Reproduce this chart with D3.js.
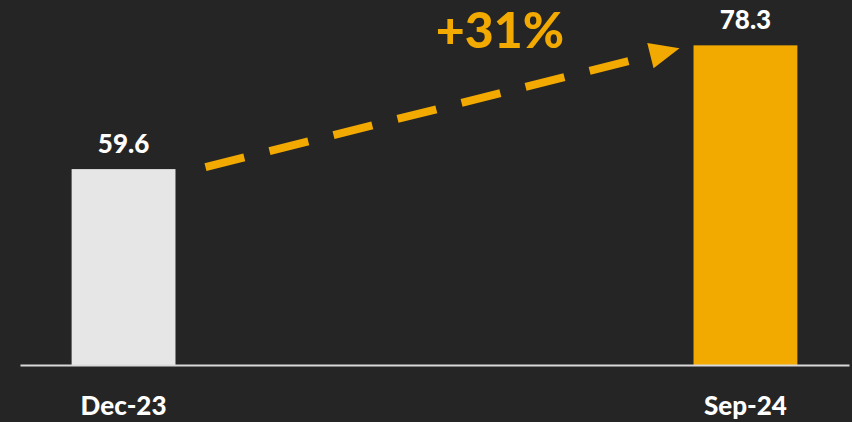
<!DOCTYPE html>
<html><head><meta charset="utf-8">
<script src="https://cdn.jsdelivr.net/npm/d3@7"></script>
<style>html,body{margin:0;padding:0;background:#262526;}svg{display:block;}</style>
</head><body>
<svg id="c" width="852" height="422"></svg>
<script>
const categories = ["Dec-23", "Sep-24"];
const values = [59.6, 78.3];
const valueLabels = ["59.6", "78.3"];
const growthLabel = "+31%";

const W = 852, H = 422;
const svg = d3.select("#c");
svg.append("rect").attr("width", W).attr("height", H).attr("fill", "#262526");

const x = d3.scaleBand().domain(categories).range([20, 849]).paddingInner(0.833).paddingOuter(0.083);
const y = d3.scaleLinear().domain([30, 85]).range([365, 1]);
const colors = ["#e6e6e6", "#f2a900"];
const font = "Lato, 'Open Sans', sans-serif";

svg.selectAll("rect.bar").data(values).join("rect").attr("class", "bar")
  .attr("x", (d, i) => x(categories[i])).attr("width", x.bandwidth())
  .attr("y", d => y(d)).attr("height", d => y(30) - y(d))
  .attr("fill", (d, i) => colors[i]);

svg.selectAll("text.val").data(values).join("text").attr("class", "val")
  .attr("x", (d, i) => x(categories[i]) + x.bandwidth() / 2)
  .attr("y", d => y(d) - 16)
  .attr("text-anchor", "middle").attr("fill", "#ffffff")
  .style("font-family", font).style("font-weight", 900).style("font-size", "26px")
  .text((d, i) => valueLabels[i]);

const ax = svg.append("g").attr("transform", `translate(0,${y(30)})`)
  .call(d3.axisBottom(x).tickSize(0).tickPadding(32).tickSizeOuter(0));
ax.select(".domain").attr("stroke", "#d9d9d9").attr("stroke-width", 2);
ax.selectAll("text").attr("fill", "#ffffff")
  .style("font-family", font).style("font-weight", 900).style("font-size", "26px");

// growth arrow
const x1 = x(categories[0]) + x.bandwidth() + 30, y1 = y(values[0]) - 2;
const x2 = x(categories[1]) - 14, y2 = y(values[1]) + 3;
const ang = Math.atan2(y2 - y1, x2 - x1);
const headLen = 30;
const lx = x2 - headLen * Math.cos(ang), ly = y2 - headLen * Math.sin(ang);
svg.append("line").attr("x1", x1).attr("y1", y1).attr("x2", lx).attr("y2", ly)
  .attr("stroke", "#f2a900").attr("stroke-width", 8).attr("stroke-dasharray", "40 26");
const hw = 13;
const px = -Math.sin(ang), py = Math.cos(ang);
svg.append("path")
  .attr("d", `M${x2},${y2} L${lx + px * hw},${ly + py * hw} L${lx - px * hw},${ly - py * hw} Z`)
  .attr("fill", "#f2a900");

svg.append("text").attr("x", 500).attr("y", 48)
  .attr("text-anchor", "middle").attr("fill", "#f2a900")
  .style("font-family", font).style("font-weight", 900).style("font-size", "50px")
  .text(growthLabel);
</script>
</body></html>
